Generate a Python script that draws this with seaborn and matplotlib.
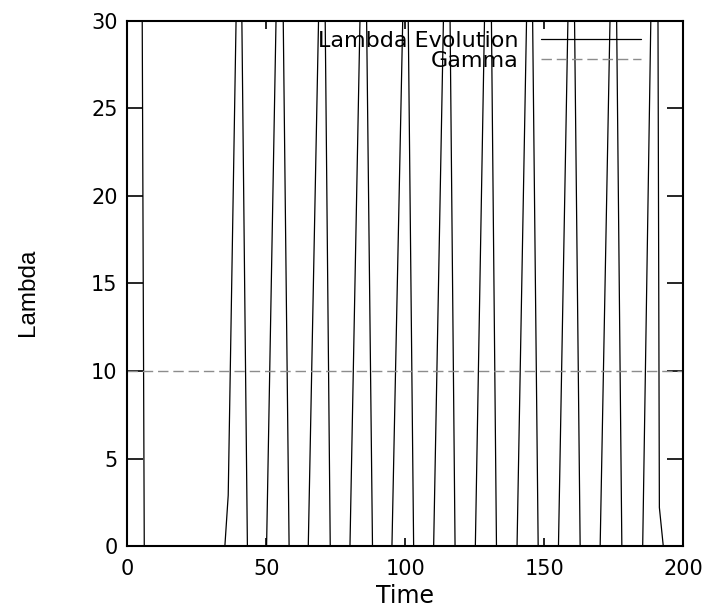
import matplotlib
matplotlib.use("Agg")
import matplotlib.pyplot as plt
import seaborn as sns
import pandas as pd

# ---- data ----
time = [0, 6.1, 35.1, 36.3, 40.4, 43.2, 50.1, 55.1, 58.2, 65.1, 70.4, 73.0,
        80.1, 85.2, 88.2, 95.2, 100.4, 103.0, 110.2, 115.3, 117.9,
        125.2, 130.1, 132.8, 140.2, 145.0, 147.8, 155.1, 160.0, 162.9,
        170.1, 175.2, 177.9, 185.4, 190.5, 191.4, 192.8, 200]
lambda_values = [250, 0, 0, 2.9, 42.3, 0, 0, 44.2, 0, 0, 43.1, 0,
                 0, 42.6, 0, 0, 40.3, 0, 0, 43.6, 0,
                 0, 44.7, 0, 0, 42.2, 0, 0, 43.3, 0,
                 0, 43.3, 0, 0, 52.4, 2.2, 0, 0]
gamma_time = [0, 200]
gamma_values = [10, 10]
x_ticks = [0, 50, 100, 150, 200]
y_ticks = [0, 5, 10, 15, 20, 25, 30]

sns.set_style("ticks")
plt.rcParams["font.family"] = ["DejaVu Sans"]
plt.rcParams["text.color"] = "black"
plt.rcParams["axes.labelcolor"] = "black"

fig = plt.figure(figsize=(7.16, 6.10), dpi=100)
ax = fig.add_axes([0.1778, 0.1049, 0.7765, 0.8607])

lam_df = pd.DataFrame({"Time": time, "Lambda": lambda_values})
gam_df = pd.DataFrame({"Time": gamma_time, "Lambda": gamma_values})

sns.lineplot(data=lam_df, x="Time", y="Lambda", ax=ax, color="black",
             linewidth=0.9, estimator=None, sort=False, label="Lambda Evolution")
sns.lineplot(data=gam_df, x="Time", y="Lambda", ax=ax, color="#8c8c8c",
             linewidth=1.0, linestyle=(0, (7.5, 3.5)), estimator=None,
             sort=False, label="Gamma")

ax.set_xlim(0, 200)
ax.set_ylim(0, 30)
ax.set_xticks(x_ticks)
ax.set_yticks(y_ticks)
ax.tick_params(axis="both", direction="in", top=True, right=True,
               labelsize=15, width=1.2, color="black", labelcolor="black")
ax.tick_params(axis="x", length=5.8, pad=9)
ax.tick_params(axis="y", length=11.5, pad=7)
for s in ax.spines.values():
    s.set_linewidth(1.5)
    s.set_color("black")
    s.set_visible(True)

ax.set_xlabel("Time", fontsize=17, color="black")
ax.set_ylabel("Lambda", fontsize=17.5, color="black", family="Liberation Sans")
ax.xaxis.label.set_va("center")
ax.yaxis.label.set_va("center")
ax.xaxis.set_label_coords(0.5, -0.095)
ax.yaxis.set_label_coords(-0.178, 0.484)

leg = ax.legend(loc="upper right", bbox_to_anchor=(0.944, 1.003),
                frameon=False, markerfirst=False, fontsize=16,
                handlelength=4.5, handletextpad=1.0, labelspacing=0.0,
                borderpad=0.0)
for t in leg.get_texts():
    t.set_color("black")

fig.savefig("out.png", dpi=100)
